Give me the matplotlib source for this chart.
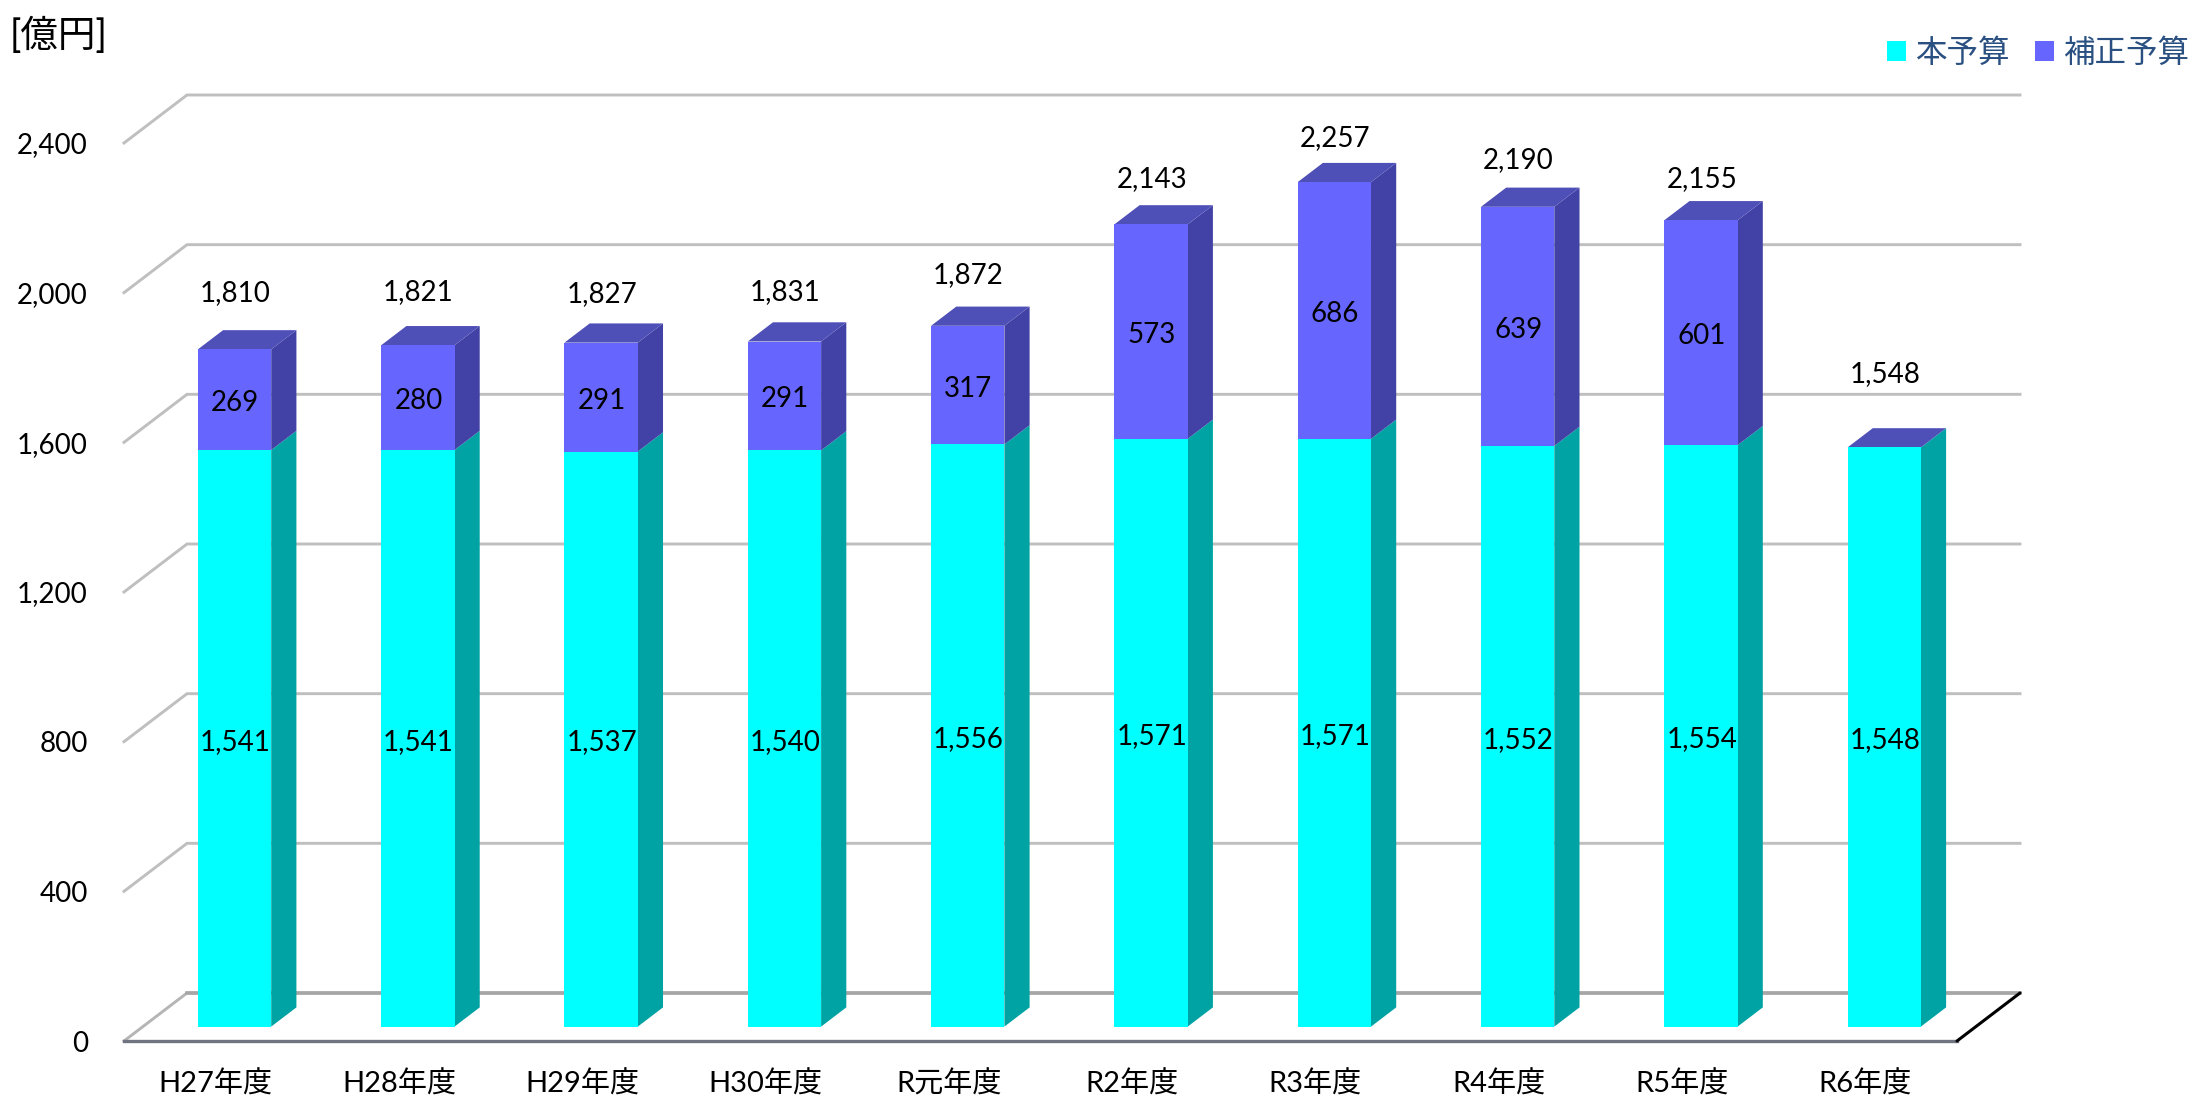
import numpy as np
import matplotlib
matplotlib.use("Agg")
import matplotlib.pyplot as plt
from matplotlib.patches import Patch

plt.rcParams['font.family'] = ['Lato', 'Noto Sans CJK JP', 'DejaVu Sans']

categories = ["H27年度", "H28年度", "H29年度", "H30年度", "R元年度",
              "R2年度", "R3年度", "R4年度", "R5年度", "R6年度"]
honyosan = [1541, 1541, 1537, 1540, 1556, 1571, 1571, 1552, 1554, 1548]
hosei = [269, 280, 291, 291, 317, 573, 686, 639, 601, 0]
totals = [1810, 1821, 1827, 1831, 1872, 2143, 2257, 2190, 2155, 1548]
yticks = [0, 400, 800, 1200, 1600, 2000, 2400]

# vertical gap between bar top and the total label, px
label_gap = [56, 53, 49, 49, 51, 45, 44, 47, 41, 73]

W, H = 2209, 1114
AX_L, AX_R, AX_T, AX_B = 124, 1957, 143, 1041

# fake 3D: how far the "back wall" sits from the front plane, in data units
DEPTH_X = 63 / 183.3
DEPTH_Y = 48 / (898 / 2400)
BAR_FRONT = 0.3
BAR_BACK = 0.7
BAR_W = 0.4

CYAN, CYAN_SIDE = "#00FFFF", "#00A3A3"
PURP, PURP_SIDE, PURP_TOP = "#6666FF", "#4141A6", "#4F4FB8"
LABEL_SIZE = 20

fig = plt.figure(figsize=(W / 100, H / 100), dpi=100, facecolor="white")
ax = fig.add_axes([AX_L / W, 1 - AX_B / H, (AX_R - AX_L) / W, (AX_B - AX_T) / H])
ax.set_xlim(-0.5, 9.5)
ax.set_ylim(0, 2400)
ax.patch.set_alpha(0)
for s in ax.spines.values():
    s.set_visible(False)

# walls
for y in yticks:
    ax.plot([-0.5, -0.5 + DEPTH_X, 9.5 + DEPTH_X], [y, y + DEPTH_Y, y + DEPTH_Y],
            color="#BFBFBF" if y else "#B5B5B5", lw=2.1, clip_on=False, zorder=1,
            solid_joinstyle="miter")
    if y == 0:
        ax.plot([-0.5 + DEPTH_X, 9.5 + DEPTH_X], [DEPTH_Y, DEPTH_Y], color="#A6A6A6", lw=2.6,
                clip_on=False, zorder=1)

# floor front edge and right edge
ax.plot([-0.5, 9.5], [0, 0], color="#6F7480", lw=2.4, clip_on=False, zorder=2)
ax.plot([9.5, 9.5 + DEPTH_X], [0, DEPTH_Y], color="black", lw=2.2, clip_on=False, zorder=2,
        solid_capstyle="round")

x = np.arange(len(categories))
front_x = x + BAR_FRONT * DEPTH_X
front_y = BAR_FRONT * DEPTH_Y
side_dx = (BAR_BACK - BAR_FRONT) * DEPTH_X
side_dy = (BAR_BACK - BAR_FRONT) * DEPTH_Y

base = np.array(honyosan)
extra = np.array(hosei)
top = base + extra

ax.bar(front_x, base, BAR_W, bottom=front_y, color=CYAN, zorder=4, clip_on=False)
ax.bar(front_x, extra, BAR_W, bottom=front_y + base, color=PURP, zorder=4, clip_on=False)

for i in range(len(categories)):
    r = front_x[i] + BAR_W / 2
    l = front_x[i] - BAR_W / 2
    y0 = front_y
    y1 = front_y + base[i]
    y2 = front_y + top[i]
    ax.fill([r, r + side_dx, r + side_dx, r], [y0, y0 + side_dy, y1 + side_dy, y1],
            color=CYAN_SIDE, lw=0, zorder=3, clip_on=False)
    ax.fill([r, r + side_dx, r + side_dx, r], [y1, y1 + side_dy, y2 + side_dy, y2],
            color=PURP_SIDE, lw=0, zorder=3, clip_on=False)
    ax.fill([l, r, r + side_dx, l + side_dx], [y2, y2, y2 + side_dy, y2 + side_dy],
            color=PURP_TOP, lw=0, zorder=3, clip_on=False)

    ax.annotate(f"{base[i]:,}", (front_x[i], y0 + base[i] / 2), xytext=(0.5, -2.5),
                textcoords="offset points", ha="center", va="center",
                fontsize=LABEL_SIZE, color="black", zorder=6)
    if extra[i] > 0:
        ax.annotate(f"{extra[i]:,}", (front_x[i], y1 + extra[i] / 2), xytext=(0.5, -2.5),
                    textcoords="offset points", ha="center", va="center",
                    fontsize=LABEL_SIZE, color="black", zorder=6)
    ax.annotate(f"{totals[i]:,}", (front_x[i], y2), xytext=(0.5, label_gap[i] * 0.72),
                textcoords="offset points", ha="center", va="center", fontsize=LABEL_SIZE,
                color="black", zorder=6, annotation_clip=False)

ax.set_xticks(x)
ax.set_xticklabels(categories, fontsize=21)
ax.set_yticks(yticks)
ax.set_yticklabels([f"{v:,}" for v in yticks], fontsize=LABEL_SIZE)
ax.tick_params(axis="x", length=0, pad=21)
ax.tick_params(axis="y", length=0, pad=26)

fig.text(10 / W, 1 - 35 / H, "[億円]", fontsize=27, ha="left", va="center", color="black")

handles = [Patch(facecolor=CYAN, label="本予算"), Patch(facecolor=PURP, label="補正予算")]
fig.legend(handles=handles, loc="center right", bbox_to_anchor=(2189 / W, 1 - 53 / H),
           ncols=2, frameon=False, fontsize=22.7, labelcolor="#2A5082", handlelength=0.6,
           handleheight=0.6, handletextpad=0.3, columnspacing=0.78, borderpad=0, borderaxespad=0)

fig.savefig("out.png", dpi=100, facecolor="white")
